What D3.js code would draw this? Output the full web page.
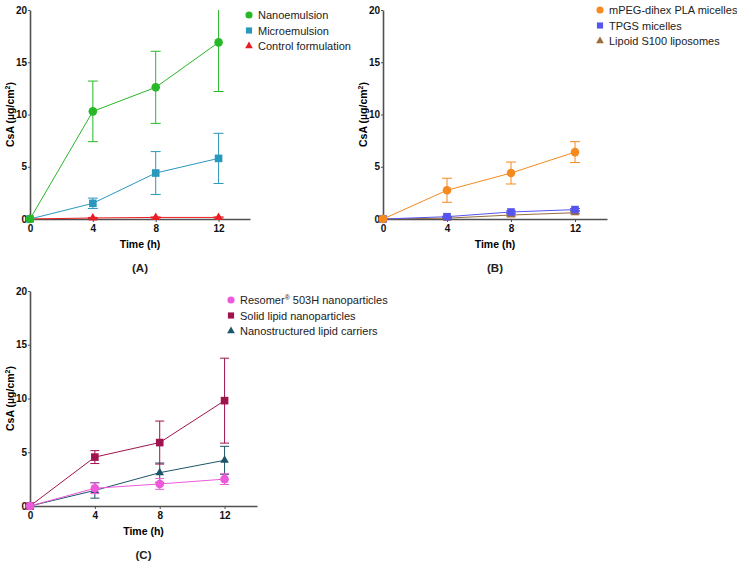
<!DOCTYPE html>
<html>
<head>
<meta charset="utf-8">
<script src="https://cdn.jsdelivr.net/npm/d3@7"></script>
<style>
  body { margin: 0; background: #fff; }
  svg { font-family: Arial, "Liberation Sans", sans-serif; }
  .tick text { font-weight: bold; font-size: 10px; fill: #111; }
  .axis path, .axis line { stroke: #505050; }
</style>
</head>
<body>
<svg id="chart" width="737" height="564"></svg>
<script>
// time points (h)
var times = [0, 4, 8, 12];
var yTicks = [0, 5, 10, 15, 20];
var xTicks = [0, 4, 8, 12];

// Panel A
var nanoMean = [0, 10.3, 12.6, 16.9];
var nanoErr  = [0, 2.9, 3.45, 4.7];
var microMean = [0, 1.5, 4.4, 5.8];
var microErr  = [0, 0.5, 2.05, 2.4];
var controlMean = [0, 0.1, 0.15, 0.15];
var controlErr  = [0, 0.05, 0.05, 0.05];

// Panel B
var mpegMean = [0, 2.75, 4.4, 6.4];
var mpegErr  = [0, 1.15, 1.05, 1.0];
var tpgsMean = [0, 0.22, 0.67, 0.9];
var tpgsErr  = [0, 0.05, 0.1, 0.1];
var lipoidMean = [0, 0.08, 0.38, 0.6];
var lipoidErr  = [0, 0.03, 0.1, 0.1];

// Panel C
var resomerMean = [0, 1.65, 2.05, 2.5];
var resomerErr  = [0, 0.5, 0.5, 0.5];
var slnMean = [0, 4.55, 5.9, 9.8];
var slnErr  = [0, 0.6, 2.0, 3.95];
var nlcMean = [0, 1.45, 3.1, 4.25];
var nlcErr  = [0, 0.72, 0.9, 1.3];

var panels = [
    { label: "(A)", left: 30, top: 10, bottom: 219, right: 250, legendX: 249, legendY: 15, cap: 5,
      series: [
        { name: "Nanoemulsion", mean: nanoMean, err: nanoErr, color: "#27b827", shape: "circle" },
        { name: "Microemulsion", mean: microMean, err: microErr, color: "#2a98bd", shape: "square" },
        { name: "Control formulation", mean: controlMean, err: controlErr, color: "#ea1c24", shape: "triangle" }
      ] },
    { label: "(B)", left: 383, top: 10, bottom: 219, right: 607, legendX: 600, legendY: 10, cap: 5,
      series: [
        { name: "mPEG-dihex PLA micelles", mean: mpegMean, err: mpegErr, color: "#f58a1f", shape: "circle" },
        { name: "TPGS micelles", mean: tpgsMean, err: tpgsErr, color: "#5555ee", shape: "square" },
        { name: "Lipoid S100 liposomes", mean: lipoidMean, err: lipoidErr, color: "#9a6b3c", shape: "triangle" }
      ] },
    { label: "(C)", left: 30, top: 291, bottom: 506, right: 257, legendX: 231, legendY: 300, cap: 4.5,
      series: [
        { name: "Resomer", sup: "®", rest: " 503H nanoparticles", mean: resomerMean, err: resomerErr, color: "#ec5adb", shape: "circle" },
        { name: "Solid lipid nanoparticles", mean: slnMean, err: slnErr, color: "#a0124e", shape: "square" },
        { name: "Nanostructured lipid carriers", mean: nlcMean, err: nlcErr, color: "#1d5568", shape: "triangle" }
      ] }
];

var svg = d3.select("#chart");

var symbolFor = {
    circle: d3.symbol().type(d3.symbolCircle).size(58),
    square: d3.symbol().type(d3.symbolSquare).size(58),
    triangle: d3.symbol().type(d3.symbolTriangle).size(32)
};
var legendSymbol = {
    circle: d3.symbol().type(d3.symbolCircle).size(40),
    square: d3.symbol().type(d3.symbolSquare).size(38),
    triangle: d3.symbol().type(d3.symbolTriangle).size(26)
};

panels.forEach(function (p) {

    var x = d3.scaleLinear().domain([0, 14]).range([p.left, p.right]);
    var y = d3.scaleLinear().domain([0, 20]).range([p.bottom, p.top]);

    var g = svg.append("g");

    // axes
    g.append("g")
        .attr("class", "axis")
        .attr("transform", "translate(0," + p.bottom + ")")
        .call(d3.axisBottom(x).tickValues(xTicks).tickSize(3).tickSizeOuter(0))
        .call(function (a) { a.select(".domain").attr("stroke-width", 1.6); });

    g.append("g")
        .attr("class", "axis")
        .attr("transform", "translate(" + p.left + ",0)")
        .call(d3.axisLeft(y).tickValues(yTicks).tickSize(2).tickPadding(1).tickSizeOuter(0))
        .call(function (a) { a.select(".domain").attr("stroke-width", 1.6); });

    // axis titles
    g.append("text")
        .attr("x", x(7))
        .attr("y", p.bottom + 29)
        .attr("text-anchor", "middle")
        .attr("font-weight", "bold")
        .attr("font-size", 10.5)
        .text("Time (h)");

    var yt = g.append("text")
        .attr("transform", "translate(" + (p.left - 16) + "," + ((p.top + p.bottom) / 2) + ") rotate(-90)")
        .attr("text-anchor", "middle")
        .attr("font-weight", "bold")
        .attr("font-size", 10.5);
    yt.append("tspan").text("CsA (µg/cm");
    yt.append("tspan").attr("dy", -4).attr("font-size", 7).text("2");
    yt.append("tspan").attr("dy", 4).text(")");

    g.append("text")
        .attr("x", x(7))
        .attr("y", p.bottom + 53)
        .attr("text-anchor", "middle")
        .attr("font-size", 11.5)
        .attr("font-weight", "bold")
        .attr("fill", "#222")
        .text(p.label);

    var line = d3.line().x(function (d) { return x(d.t); }).y(function (d) { return y(d.v); });

    // draw series (last legend entry drawn first so first is on top)
    p.series.slice().reverse().forEach(function (s) {
        var pts = times.map(function (t, i) { return { t: t, v: s.mean[i], e: s.err[i] }; });
        var sg = g.append("g");

        // error bars
        pts.forEach(function (d) {
            if (d.e <= 0) return;
            var hi = Math.min(d.v + d.e, 20);
            sg.append("line")
                .attr("x1", x(d.t)).attr("x2", x(d.t))
                .attr("y1", y(d.v - d.e)).attr("y2", y(hi))
                .attr("stroke", s.color).attr("stroke-width", 1);
            var caps = [d.v - d.e];
            if (d.v + d.e <= 20) caps.push(d.v + d.e);
            caps.forEach(function (c) {
                sg.append("line")
                    .attr("x1", x(d.t) - p.cap).attr("x2", x(d.t) + p.cap)
                    .attr("y1", y(c)).attr("y2", y(c))
                    .attr("stroke", s.color).attr("stroke-width", 1);
            });
        });

        sg.append("path")
            .datum(pts)
            .attr("d", line)
            .attr("fill", "none")
            .attr("stroke", s.color)
            .attr("stroke-width", 1);

        sg.selectAll("path.mark")
            .data(pts)
            .enter()
            .append("path")
                .attr("class", "mark")
                .attr("d", symbolFor[s.shape])
                .attr("fill", s.color)
                .attr("transform", function (d) { return "translate(" + x(d.t) + "," + y(d.v) + ")"; });
    });

    // legend
    p.series.forEach(function (s, i) {
        var ly = p.legendY + i * 15.5;
        g.append("path")
            .attr("d", legendSymbol[s.shape])
            .attr("fill", s.color)
            .attr("transform", "translate(" + p.legendX + "," + ly + ")");
        var lt = g.append("text")
            .attr("x", p.legendX + 9)
            .attr("y", ly + 4)
            .attr("font-size", 11)
            .attr("fill", "#222");
        lt.append("tspan").text(s.name);
        if (s.sup) {
            lt.append("tspan").attr("dy", -4).attr("font-size", 7).text(s.sup);
            lt.append("tspan").attr("dy", 4).text(s.rest);
        }
    });
});
</script>
</body>
</html>
